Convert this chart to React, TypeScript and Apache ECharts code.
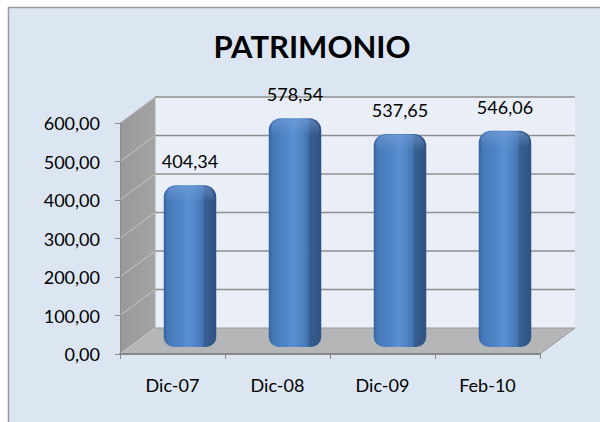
import React, { useEffect, useRef } from 'react';
import * as echarts from 'echarts';

const titleText = 'PATRIMONIO';
const categories = ['Dic-07', 'Dic-08', 'Dic-09', 'Feb-10'];
const values = [404.34, 578.54, 537.65, 546.06];
const yTicks = [0, 100, 200, 300, 400, 500, 600];

const fmt = (v: number) => v.toFixed(2).replace('.', ',');

export default function App() {
  const ref = useRef<HTMLDivElement>(null);
  useEffect(() => {
    document.body.style.margin = '0';
    document.body.style.overflow = 'hidden';
    const chart = echarts.init(ref.current!, null, { renderer: 'svg' });
    const DX = 35;
    const DY = -26;
    const font = 'Lato, Carlito, Calibri, sans-serif';
    const yMin = yTicks[0];
    const yMax = yTicks[yTicks.length - 1];
    const yStep = yTicks[1] - yTicks[0];

    const boxRender = (params: any, api: any) => {
      const cs = params.coordSys;
      const x0 = cs.x;
      const x1 = cs.x + cs.width;
      const yB = api.coord([0, yMin])[1];
      const yT = api.coord([0, yMax])[1];
      const children: any[] = [];
      children.push({
        type: 'rect',
        shape: { x: x0 + DX, y: yT + DY, width: x1 - x0, height: yB - yT },
        style: { fill: '#e9eef7' },
      });
      children.push({
        type: 'polygon',
        shape: { points: [[x0, yT], [x0, yB], [x0 + DX, yB + DY], [x0 + DX, yT + DY]] },
        style: {
          fill: { type: 'linear', x: 0, y: 0, x2: 1, y2: 0, colorStops: [
            { offset: 0, color: '#999999' }, { offset: 1, color: '#a3a3a3' }] },
        },
      });
      children.push({
        type: 'polygon',
        shape: { points: [[x0, yB], [x1, yB], [x1 + DX, yB + DY], [x0 + DX, yB + DY]] },
        style: { fill: '#b5b6b8' },
      });
      yTicks.forEach((t) => {
        const y = api.coord([0, t])[1];
        children.push({
          type: 'line',
          shape: { x1: x0 + DX, y1: y + DY, x2: x1 + DX, y2: y + DY },
          style: { stroke: t === yMin ? '#9a9a9a' : '#8f8f8f', lineWidth: t === yMin ? 1 : 1.5 },
        });
        children.push({
          type: 'line',
          shape: { x1: x0, y1: y, x2: x0 + DX, y2: y + DY },
          style: { stroke: '#c4c4c4', lineWidth: 1 },
        });
      });
      children.push({
        type: 'line',
        shape: { x1: x0 + DX, y1: yT + DY, x2: x0 + DX, y2: yB + DY },
        style: { stroke: '#a8a8a8', lineWidth: 1 },
      });
      children.push({
        type: 'line',
        shape: { x1: x1, y1: yB, x2: x1 + DX, y2: yB + DY },
        style: { stroke: '#9a9a9a', lineWidth: 1 },
      });
      return { type: 'group', children };
    };

    const barRender = (params: any, api: any) => {
      const i = api.value(0);
      const v = api.value(1);
      const top = api.coord([i, v]);
      const base = api.coord([i, 0]);
      const w = api.size([1, 0])[0] * 0.5;
      const cx = top[0] + DX / 2;
      const yTop = top[1] + DY / 2;
      const yBot = base[1] + DY / 2 + 6;
      return {
        type: 'group',
        children: [
          {
            type: 'rect',
            shape: { x: cx - w / 2, y: yTop, width: w, height: yBot - yTop, r: [12, 12, 10, 10] },
            style: {
              fill: { type: 'linear', x: 0, y: 0, x2: 1, y2: 0, colorStops: [
                { offset: 0, color: '#3463a0' },
                { offset: 0.08, color: '#4679b9' },
                { offset: 0.3, color: '#4e84c6' },
                { offset: 0.48, color: '#5990d2' },
                { offset: 0.62, color: '#4f84c4' },
                { offset: 0.74, color: '#4475b2' },
                { offset: 0.78, color: '#385f91' },
                { offset: 1, color: '#2e5283' },
              ] },
            },
          },
          {
            type: 'rect',
            shape: { x: cx - w / 2 + 2, y: yTop + 1, width: w - 4, height: 16, r: [11, 11, 4, 4] },
            style: {
              fill: { type: 'linear', x: 0, y: 0, x2: 0, y2: 1, colorStops: [
                { offset: 0, color: 'rgba(120,160,215,0.55)' },
                { offset: 1, color: 'rgba(120,160,215,0)' },
              ] },
            },
          },
          {
            type: 'text',
            style: {
              text: fmt(v), x: cx, y: yTop - 24, align: 'center', verticalAlign: 'middle',
              font: '18px ' + font, fill: '#000000',
            },
          },
        ],
      };
    };

    const option: any = {
      animation: false,
      backgroundColor: '#ffffff',
      title: {
        text: titleText,
        left: 307,
        top: 25,
        textAlign: 'center',
        textStyle: { fontFamily: font, fontWeight: 'bold', fontSize: 31, color: '#000000' },
      },
      graphic: [
        {
          type: 'rect',
          z: -10,
          shape: { x: 8.5, y: 7.5, width: 640, height: 460 },
          style: { fill: '#dce6f2', stroke: '#9a9a9a', lineWidth: 1.5 },
        },
      ],
      grid: { left: 120, right: 60, top: 123, bottom: 68 },
      xAxis: {
        type: 'category',
        data: categories,
        z: 3,
        axisLine: { show: true, lineStyle: { color: '#878787', width: 2 } },
        axisTick: { show: true, length: 5, lineStyle: { color: '#878787', width: 1 } },
        axisLabel: { margin: 22, fontFamily: font, fontSize: 18, color: '#000000' },
      },
      yAxis: {
        type: 'value',
        min: yMin,
        max: yMax,
        interval: yStep,
        z: 3,
        axisLine: { show: true, lineStyle: { color: '#8c8c8c', width: 1 } },
        axisTick: { show: true, length: 5, lineStyle: { color: '#8c8c8c' } },
        splitLine: { show: false },
        axisLabel: { margin: 20, fontFamily: font, fontSize: 18, color: '#000000', formatter: (v: number) => fmt(v) },
      },
      series: [
        { type: 'custom', z: 1, silent: true, renderItem: boxRender, data: [[0, 0]], encode: { x: 0, y: 1 } },
        { type: 'custom', z: 4, renderItem: barRender, data: values.map((v, i) => [i, v]), encode: { x: 0, y: 1 } },
      ],
    };
    chart.setOption(option);
    return () => chart.dispose();
  }, []);
  return <div ref={ref} style={{ width: 600, height: 422 }} />;
}
